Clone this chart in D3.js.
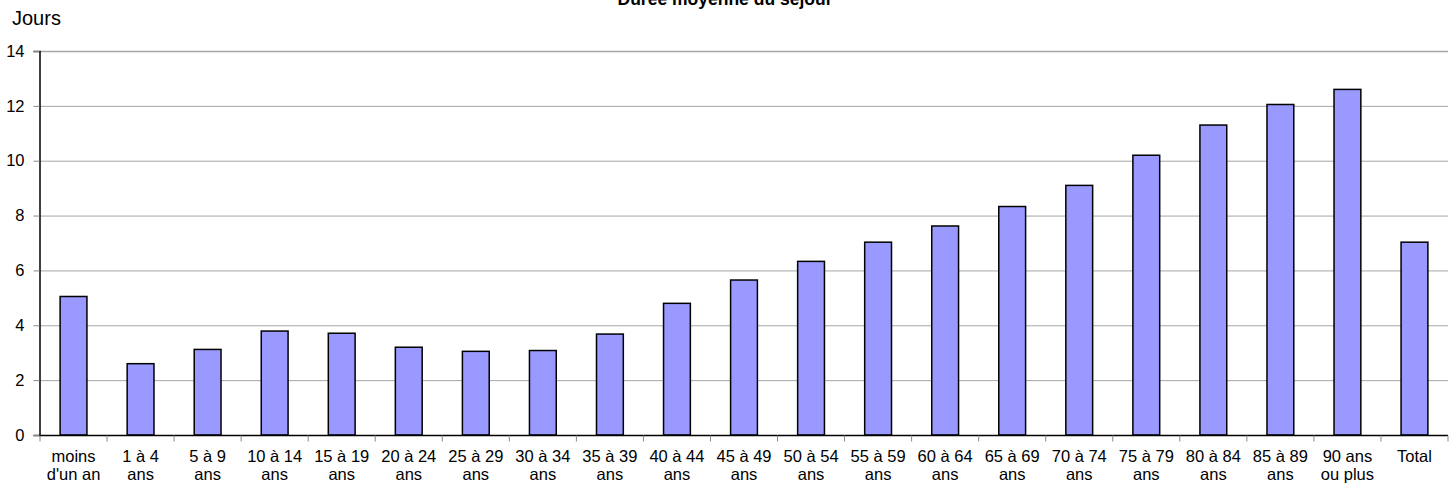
<!DOCTYPE html>
<html><head><meta charset="utf-8">
<script src="https://cdn.jsdelivr.net/npm/d3@7"></script>
<style>body{margin:0;background:#fff;}svg{display:block;font-family:"Liberation Sans",Arial,sans-serif;}</style>
</head><body><svg id="c" width="1450" height="485"></svg>
<script>
const categories = [["moins","d'un an"],["1 à 4","ans"],["5 à 9","ans"],["10 à 14","ans"],["15 à 19","ans"],["20 à 24","ans"],["25 à 29","ans"],["30 à 34","ans"],["35 à 39","ans"],["40 à 44","ans"],["45 à 49","ans"],["50 à 54","ans"],["55 à 59","ans"],["60 à 64","ans"],["65 à 69","ans"],["70 à 74","ans"],["75 à 79","ans"],["80 à 84","ans"],["85 à 89","ans"],["90 ans","ou plus"],["Total"]];
const values = [5.05,2.6,3.12,3.79,3.71,3.2,3.05,3.08,3.68,4.8,5.65,6.33,7.03,7.62,8.33,9.1,10.2,11.3,12.05,12.6,7.03];
const yTicks = [0,2,4,6,8,10,12,14];
const title = "Durée moyenne du séjour";
const yLabel = "Jours";

const svg = d3.select("#c");
const m = {l:40, r:2, t:51, b:50};
const W = 1450, H = 485;
const x = d3.scaleBand().domain(d3.range(categories.length)).range([m.l, W-m.r]).paddingInner(0).paddingOuter(0);
const y = d3.scaleLinear().domain([0,14]).range([H-m.b, m.t]);

// gridlines
svg.append("g").selectAll("line").data(yTicks.filter(d=>d>0)).join("line")
  .attr("x1", m.l).attr("x2", W-m.r)
  .attr("y1", d=>y(d)+0.5).attr("y2", d=>y(d)+0.5)
  .attr("stroke", "#a6a6a6").attr("stroke-width", d=>d===14?1.6:1);

// bars
const bw = x.bandwidth()*0.4;
svg.append("g").selectAll("rect").data(values).join("rect")
  .attr("x", (d,i)=>x(i)+(x.bandwidth()-bw)/2)
  .attr("y", d=>y(d))
  .attr("width", bw)
  .attr("height", d=>y(0)-y(d))
  .attr("fill", "#9999ff").attr("stroke", "#000").attr("stroke-width", 1.5);

// y axis
const ya = svg.append("g").attr("transform", `translate(${m.l-0.5},0)`)
  .call(d3.axisLeft(y).tickValues(yTicks).tickSize(6).tickPadding(9).tickFormat(d3.format("d")));
ya.select(".domain").attr("stroke","#000").attr("stroke-width",1.5);
ya.selectAll(".tick line").attr("stroke","#888");
ya.selectAll(".tick text").attr("font-size","16.5px").attr("fill","#000").attr("font-family","Liberation Sans, Arial, sans-serif");

// x axis
const xa = svg.append("g").attr("transform", `translate(0,${y(0)+0.5})`);
xa.append("line").attr("x1", m.l-0.5).attr("x2", W-m.r).attr("stroke","#000").attr("stroke-width",1.5);
xa.selectAll("line.tk").data(d3.range(categories.length+1)).join("line").attr("class","tk")
  .attr("x1", i=> i<categories.length ? x(i) : W-m.r).attr("x2", i=> i<categories.length ? x(i) : W-m.r)
  .attr("y1", 0).attr("y2", 6).attr("stroke","#888");
const lbl = xa.selectAll("text").data(categories).join("text")
  .attr("text-anchor","middle").attr("font-size","16.5px").attr("fill","#000")
  .attr("transform",(d,i)=>`translate(${x(i)+x.bandwidth()/2},0)`);
lbl.selectAll("tspan").data(d=>d).join("tspan")
  .attr("x",0).attr("y",(d,j)=>26+j*18).text(d=>d);

// titles
svg.append("text").attr("x", 12).attr("y", 25).attr("font-size","20px").text(yLabel);
svg.append("text").attr("x", 725).attr("y", 4.5).attr("text-anchor","middle")
  .attr("font-size","17.5px").attr("font-weight","bold").text(title);
</script></body></html>
